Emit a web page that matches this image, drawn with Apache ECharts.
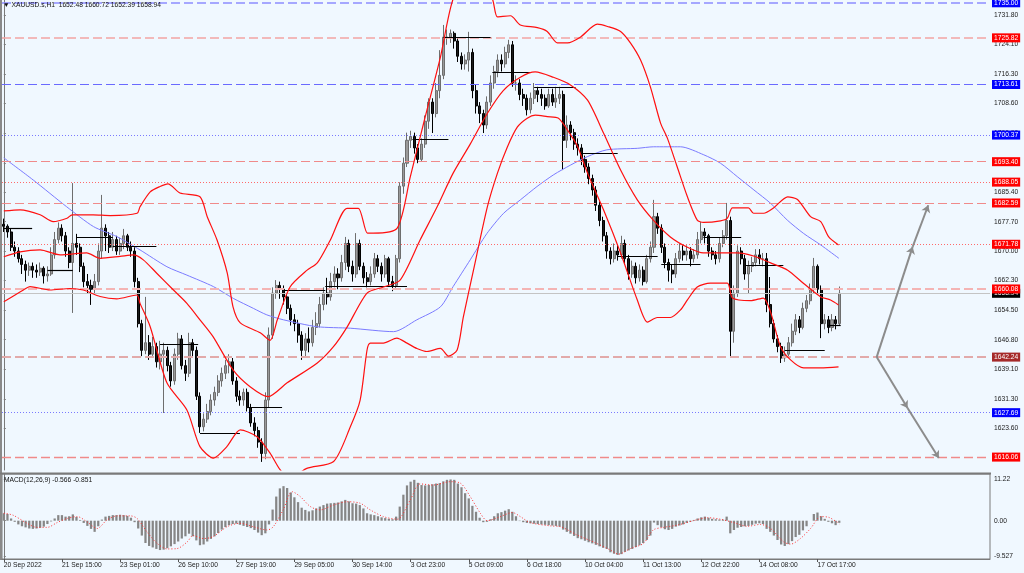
<!DOCTYPE html>
<html><head><meta charset="utf-8">
<script src="https://cdn.jsdelivr.net/npm/echarts@6/dist/echarts.min.js"></script>
<style>html,body{margin:0;padding:0;background:#f0f8ff;}#c{width:1024px;height:573px;}</style>
</head><body><div id="c"></div>
<script>
// ---------------- DATA ----------------
const HEADER_SYMBOL = 'XAUUSD.s,H1';
const HEADER_OHLC = ['1652.48', '1660.72', '1652.39', '1658.94'];
const MACD_HEADER = ['-0.566', '-0.851'];
const X_TICK_LABELS = ['20 Sep 2022','21 Sep 15:00','23 Sep 01:00','26 Sep 10:00','27 Sep 19:00','29 Sep 05:00','30 Sep 14:00','3 Oct 23:00','5 Oct 09:00','6 Oct 18:00','10 Oct 04:00','11 Oct 13:00','12 Oct 22:00','14 Oct 08:00','17 Oct 17:00'];
const PRICE_TICKS = [1731.80,1724.10,1716.30,1708.60,1700.90,1693.10,1685.40,1677.70,1670.00,1662.30,1654.50,1646.80,1639.10,1631.30,1623.60,1615.90];
const MACD_TICKS = [11.22, 0, -9.527];

// candles: [open, close, low, high]
const CANDLES = [
[1677,1676.5,1675,1678.5],[1676.5,1675,1673.5,1677],[1675,1671,1670,1676],[1671,1670,1668.5,1672.5],[1670,1668,1667,1671],
[1668,1666.5,1664,1669],[1666.5,1665,1662,1667.5],[1665,1666,1663.5,1667],[1666,1665,1663,1667],[1665,1664.5,1663,1666.5],
[1664.5,1665.5,1663.5,1667],[1665.5,1663.5,1661.5,1666],[1663.5,1664,1662,1666],[1664,1669,1663.5,1671],[1669,1673,1668,1675],
[1673,1676,1672,1677.5],[1676,1674,1672.5,1677],[1674,1670,1668.5,1675],[1670,1667,1665.5,1671],[1667,1672,1653.8,1687.8],
[1672,1671,1669,1674.5],[1671,1666,1664.5,1672],[1666,1662,1660.5,1667],[1662,1661,1659,1664],[1661,1660,1655.9,1662.5],
[1660,1662,1658.5,1664],[1662,1670,1661,1672],[1670,1676,1668,1684.7],[1676,1674,1670,1677],[1674,1671,1669.5,1675],
[1671,1673,1670,1675],[1673,1670,1669,1674],[1670,1672,1669,1673.5],[1672,1674,1670.5,1675.8],[1674,1671,1670,1674.5],
[1671,1670,1668.5,1672.5],[1670,1662,1660.5,1671],[1662,1651,1650,1663],[1651,1644,1642.5,1652],[1644,1646,1643,1658],
[1646,1643,1641.5,1648],[1643,1645,1642,1647.5],[1645,1641,1639.5,1646],[1641,1643,1639,1646.5],[1643,1644,1627.6,1646],
[1644,1640,1638.5,1645],[1640,1636,1634.5,1641],[1636,1643,1635,1644.5],[1643,1647,1641.5,1648.6],[1647,1640,1639,1648],
[1640,1638,1636,1641.5],[1638,1646,1637,1648.6],[1646,1644,1642,1647],[1644,1632,1631,1645],[1632,1624,1622.4,1633],
[1624,1626,1622.8,1627.5],[1626,1628,1625,1630],[1628,1631,1627,1632.5],[1631,1633,1629.5,1634.5],[1633,1636,1632,1637.5],
[1636,1638,1634.5,1639.5],[1638,1640,1636.5,1641.5],[1640,1641,1638,1643],[1641,1636,1635,1642],[1636,1632,1630.5,1637],
[1632,1631,1629.5,1633.5],[1631,1633,1629.5,1634],[1633,1629,1628,1634],[1629,1625,1624,1630],[1625,1623,1621.5,1626.5],
[1623,1620,1618.5,1624],[1620,1617,1614.8,1621],[1617,1631,1615.5,1633],[1631,1648,1629,1650],[1648,1659,1647,1660.5],
[1659,1661,1657.5,1662.4],[1661,1660,1657.5,1662],[1660,1658,1656,1661],[1658,1655,1653.5,1659],[1655,1652,1650.5,1656],
[1652,1651,1649,1653.5],[1651,1648,1646,1652],[1648,1644,1641.5,1649],[1644,1647,1642.5,1648.5],[1647,1646,1643.5,1650],
[1646,1650,1645,1652],[1650,1651,1648,1654],[1651,1656,1650,1658],[1656,1659,1654.5,1660.5],[1659,1658,1656,1663],
[1658,1662,1657,1664.3],[1662,1664,1660.5,1666],[1664,1663,1660,1665.5],[1663,1667,1662,1669],[1667,1672,1665,1673.7],
[1672,1666,1664.5,1673],[1666,1664,1662,1667.5],[1664,1672,1663,1674.7],[1672,1666,1665,1673],[1666,1663,1661.5,1667],
[1663,1662,1660.5,1664.5],[1662,1664,1661,1666],[1664,1668,1663,1669.5],[1668,1666,1664.5,1669],[1666,1664,1662,1667],
[1664,1668,1663,1669],[1668,1662,1661,1668.5],[1662,1661,1659.5,1663.5],[1661,1668,1660,1669],[1668,1687,1667,1688],
[1687,1693,1685,1694.5],[1693,1699,1692,1701],[1699,1700,1697,1701.5],[1700,1697,1695.5,1701],[1697,1694,1693,1698],
[1694,1698,1693.5,1699.5],[1698,1704,1697,1705.5],[1704,1709,1702,1710],[1709,1706,1700.9,1710],[1706,1712,1705,1714],
[1712,1716,1710,1722.6],[1716,1726,1715,1729.2],[1726,1726,1724,1728],[1726,1727,1724.5,1728],[1727,1725,1723,1727.5],
[1725,1721,1719.5,1726],[1721,1719,1717.5,1722],[1719,1720,1717.5,1721.5],[1720,1722,1717,1727.4],[1722,1712,1710,1723],
[1712,1708,1706,1713.5],[1708,1706,1703.5,1709],[1706,1703,1700.9,1707],[1703,1709,1702,1710.5],[1709,1714,1708,1716],
[1714,1717,1712.5,1718.5],[1717,1720,1715.5,1721.5],[1720,1719,1717,1721.5],[1719,1722,1718,1723.5],[1722,1724,1720.5,1725.3],
[1724,1714,1713,1725],[1714,1714,1712,1716],[1714,1711,1709.5,1715],[1711,1710,1708,1712.5],[1710,1707,1705.5,1711],
[1707,1710,1706,1711.5],[1710,1712,1708.5,1714],[1712,1711,1709,1713],[1711,1710,1708,1712.5],[1710,1708,1707,1711],
[1708,1711,1707.5,1712.5],[1711,1709,1708,1712.5],[1709,1710,1707.5,1713],[1710,1711,1708.5,1713],[1711,1699,1691.2,1712],
[1699,1703,1697,1705.5],[1703,1701,1699,1704],[1701,1698,1696.5,1702],[1698,1697,1695,1699.5],[1697,1694,1692.5,1698],
[1694,1692,1690.5,1695],[1692,1689,1687.5,1693],[1689,1686,1684.5,1690],[1686,1682,1680.5,1687],[1682,1678,1676.5,1683],
[1678,1674,1672.5,1679],[1674,1670,1668,1675],[1670,1668,1666.5,1671],[1668,1670,1667,1672],[1670,1669,1667.5,1671.5],
[1669,1672,1668,1674],[1672,1668,1666.5,1673],[1668,1664,1662.5,1669],[1664,1666,1663,1667.5],[1666,1663,1661.5,1667],
[1663,1665,1662,1666.5],[1665,1662,1661,1666],[1662,1668,1661.5,1669],[1668,1671,1667,1672.5],[1671,1679,1669.5,1683.4],
[1679,1676,1674.5,1680],[1676,1671,1669.5,1677],[1671,1667,1665.5,1672],[1667,1665,1662,1668],[1665,1664,1661.6,1666.5],
[1664,1668,1663,1669.5],[1668,1670,1667,1672],[1670,1669,1667.5,1671.5],[1669,1670,1667.5,1671.5],[1670,1668,1666,1671],
[1668,1669,1667,1670.5],[1669,1673,1668,1675],[1673,1675,1672,1677.6],[1675,1674,1672,1676],[1674,1670,1668.5,1674.5],
[1670,1669,1667.7,1671],[1669,1668,1666.5,1670],[1668,1672,1667,1673.5],[1672,1674,1671,1675.5],[1674,1678,1673,1682.6],
[1678,1649,1642.3,1679],[1649,1659,1646,1661],[1659,1670,1658,1671.5],[1670,1668,1666.5,1671],[1668,1664,1662.5,1669],
[1664,1666,1659,1667.5],[1666,1667,1664.5,1668.5],[1667,1669,1666,1670.5],[1669,1668,1666.5,1670.5],[1668,1668,1666,1669.5],
[1668,1656,1654,1669.5],[1656,1651,1650,1663.2],[1651,1647,1646,1652],[1647,1645,1643.5,1648],[1645,1642,1640.7,1646],
[1642,1643,1641,1645],[1643,1646,1642,1647.5],[1646,1649,1645,1651],[1649,1652,1648,1653.5],[1652,1650,1648.5,1653],
[1650,1655,1649.5,1656.5],[1655,1657,1654,1658.5],[1657,1660,1656,1661.5],[1660,1666,1659,1668.2],[1666,1660,1659,1666.5],
[1660,1651,1647.2,1661],[1651,1652,1649.5,1653.5],[1652,1650,1648.5,1653],[1650,1652,1649,1653.5],[1652,1651,1649.5,1653],
[1651,1658.94,1650.5,1660.72]
];

// Bollinger bands and moving average, keypoints [bar, price]
const BB_UPPER = [[0,1680.5],[4.5,1680.8],[10,1679.5],[13.6,1677.7],[17.4,1678.6],[18.8,1679.5],[24.6,1679.5],[29.3,1679.3],[36.7,1679.9],[37.5,1681.6],[40.3,1685.5],[43,1686.9],[45.2,1687.6],[48.5,1685.2],[54,1684.2],[56,1679],[58.7,1672.9],[61.5,1664.3],[63.1,1655.4],[65.1,1651.2],[70.6,1648.6],[73.3,1646.6],[75.3,1652],[78.8,1660.6],[83.5,1665],[86.3,1666.9],[89.9,1672.9],[94.5,1681.2],[97.6,1681.2],[100.1,1674.7],[101.7,1674.7],[108.3,1676],[111.9,1689.4],[116,1705.1],[120.2,1720.8],[123.7,1736],[129,1744],[134.5,1736],[135.9,1731.3],[139.5,1731.6],[142.2,1729.2],[146.9,1728.5],[149.6,1727.5],[152.4,1724.5],[155.2,1724.5],[158.7,1726],[163.4,1729.4],[166.2,1728.8],[169.8,1727.5],[172.5,1724.5],[175.3,1720],[178,1713],[180.8,1703.5],[182.7,1699.5],[185.4,1692],[188.2,1684.2],[190.9,1678.1],[192.6,1677.5],[197.3,1677.9],[199.2,1678.6],[200.6,1681.3],[205,1681.3],[206.4,1679.9],[209.2,1679.9],[211.9,1681.3],[215.8,1684.2],[218.5,1683.5],[222.1,1679],[224.9,1677.7],[227.1,1673.7],[229.8,1671.6]];
const BB_MIDDLE = [[0,1668.5],[4.5,1669.8],[10,1670.3],[15.5,1669],[22.8,1669.5],[26.5,1668.1],[32,1668.6],[35.7,1669],[38.4,1667.7],[42.1,1664.2],[46.7,1659.8],[50.4,1656.3],[54,1652],[57.6,1647.6],[63.1,1638.9],[67.8,1634.5],[72.8,1631.9],[78,1635.5],[86.3,1640.7],[90.7,1644.9],[94.5,1650.1],[100,1659],[104.5,1660.6],[109.1,1662.4],[114.6,1672.9],[119.3,1681.6],[123.7,1690.4],[128.4,1698],[133.1,1706],[137.5,1712],[142.2,1715.5],[146.3,1716.9],[151.3,1715.5],[156,1713.5],[160.7,1709.5],[165.1,1700.9],[169.8,1691.2],[174.4,1683.4],[178.8,1678.1],[183.5,1673.7],[188.2,1671],[192.6,1669.5],[197.3,1669.5],[201.9,1669.5],[206.4,1668.7],[211.1,1666.9],[215.8,1665],[220.2,1661.5],[224.9,1658],[227.6,1657.2],[229.8,1655.9]];
const BB_LOWER = [[0,1656.7],[5.4,1659.8],[7.2,1660.7],[12.7,1659.8],[18.2,1660.2],[21.9,1659.8],[26.5,1658.1],[31.1,1657.5],[36.6,1658.5],[37.5,1656.3],[40.3,1650.2],[44.9,1635.5],[50.4,1628.4],[54,1618.8],[57.7,1615.8],[61.4,1618.8],[65.1,1623.2],[69.7,1621.4],[73.3,1617.1],[76.1,1612.7],[78.8,1610.5],[83.4,1613.1],[90.8,1614.9],[95.4,1624],[98.1,1631],[100,1644.1],[100.9,1645.9],[104.5,1645.9],[108.2,1647.2],[111,1645.9],[113.7,1644.5],[116.5,1643.7],[120.2,1644.5],[122.4,1642.5],[124.8,1644.1],[126.5,1652.7],[129.3,1665],[133.1,1681.5],[135.9,1690.4],[138.6,1697.2],[141.4,1702.5],[144.1,1704.8],[146.3,1705.6],[149.6,1705.2],[152.7,1704.8],[155.1,1701.8],[157.9,1697.5],[160.7,1690.4],[165.1,1680.8],[169.8,1669.5],[174.4,1657.2],[177.2,1651.4],[179.9,1652.6],[183.5,1652.6],[186.3,1654.6],[188.2,1657.2],[190.9,1660.6],[194.5,1661.6],[199.2,1661.6],[200.6,1657.7],[205.6,1657],[209.1,1657.7],[211.1,1654],[213.8,1645],[216.6,1641.5],[220.2,1639.4],[224.9,1639.4],[229.8,1639.7]];
const MA_SLOW = [[0,1694.4],[8.1,1688.6],[17.3,1681.6],[24.7,1676.4],[31.1,1673.8],[37.5,1670.3],[44.9,1665.9],[50.4,1663.7],[57.7,1660.7],[63.2,1657.6],[68.7,1655],[72.4,1653.3],[77,1652],[86.2,1650.2],[95.4,1649.8],[107.3,1648.9],[113.7,1652],[120.2,1655.4],[123.7,1660.7],[128.4,1667.7],[133,1674.6],[137.6,1679.9],[142.2,1683.4],[146.8,1686.9],[151.4,1690],[156,1692.5],[160.6,1694.7],[166,1696.5],[174.4,1696.9],[178.9,1697.3],[186.3,1697.3],[192.7,1695.2],[197.3,1693],[201.9,1689.5],[206.5,1686],[211.1,1682.5],[215.7,1678.1],[220.2,1674.6],[224.9,1671.6],[229.9,1668.1]];

// black horizontal range segments: [fromBar, toBar, price]
const RANGE_SEGMENTS = [[0,7.8,1676],[12,19,1665],[20,30,1673.7],[30,42,1671.3],[43,53.5,1645.6],[54,65,1622.4],[67,76.6,1629.2],[77,88.5,1659.8],[88.5,111,1660.8],[112.5,122.4,1699.3],[121,134,1726],[134.5,145,1716.7],[146,157.4,1712.8],[158.7,169,1695.7],[169,180,1668.7],[181,191.8,1666.6],[192.6,203,1673.7],[204,214.6,1666.4],[215,226,1644.1],[226.8,230.4,1650.6]];

// horizontal level lines (price)
const LEVELS = [1735.00,1725.82,1713.61,1700.37,1693.40,1688.05,1682.59,1671.78,1660.08,1642.24,1627.69,1616.06];
const CURRENT_PRICE = 1658.94;

// projection arrows: [bar, price]
const ARROW_UP = [[240.3,1642.24],[250.2,1671.1],[254.5,1682.0]];
const ARROW_DOWN = [[240.3,1642.24],[248.8,1628.9],[257.4,1615.8]];

// MACD histogram per bar and signal keypoints
const MACD_HIST = [2.0,1.8,0.6,-0.3,-1.0,-1.5,-1.8,-2.1,-2.2,-2.1,-1.9,-1.6,-0.9,-0.2,0.6,1.5,1.5,1.1,1.2,1.7,
1.0,0.2,-0.6,-1.4,-2.2,-3.0,-1.5,0.3,1.1,1.3,1.5,1.5,1.6,1.5,1.3,0.8,-0.4,-2.1,-4.0,-6.0,
-6.8,-7.2,-7.6,-7.9,-7.8,-7.4,-6.9,-6.3,-5.6,-4.8,-4.2,-3.5,-4.2,-5.3,-6.6,-6.4,-5.6,-4.9,-4.2,-3.3,
-2.4,-1.7,-1.2,-0.9,-0.8,-1.1,-1.4,-1.7,-2.0,-2.5,-3.2,-3.9,-3.4,-1.0,3.0,6.5,8.7,9.3,8.8,7.6,
6.3,5.0,3.5,2.9,2.5,2.8,3.3,3.8,4.2,4.6,4.7,4.8,4.9,5.2,5.6,5.2,4.7,4.6,4.2,3.3,
2.0,1.7,1.5,1.2,0.9,0.7,0.5,0.4,1.1,3.8,7.0,9.5,10.5,11.0,10.2,9.6,9.5,9.6,9.8,10.0,
10.1,10.6,11.0,11.1,11.0,10.0,9.0,7.4,6.0,4.0,2.4,0.8,-0.4,-0.3,0.4,1.2,2.0,2.3,2.7,3.1,
2.4,1.2,-0.1,-0.4,-0.6,-0.7,-0.8,-0.9,-1.0,-1.1,-1.2,-1.3,-1.4,-1.6,-2.4,-3.0,-3.5,-4.1,-4.7,-5.0,
-5.4,-5.8,-6.1,-6.5,-6.9,-7.3,-7.6,-8.5,-8.9,-9.2,-9.0,-8.4,-8.0,-7.6,-7.1,-6.6,-6.0,-5.2,-4.0,-0.5,
-1.2,-1.8,-2.3,-2.5,-2.2,-1.6,-1.3,-1.0,-0.6,-0.3,0.2,0.6,0.9,1.1,0.8,0.5,0.4,0.3,0.3,1.1,
-3.4,-2.5,-1.9,-1.7,-1.5,-1.4,-1.1,-0.8,-0.7,-0.9,-2.2,-3.0,-4.0,-5.2,-6.4,-6.8,-6.3,-5.5,-4.4,-3.8,
-2.6,-1.5,0.0,1.8,2.2,1.2,0.5,-0.3,-0.7,-1.2,-0.57];
const MACD_SIGNAL = [[0,2.0],[2.5,1.5],[6.4,-0.7],[9.1,-1.8],[11.9,-1.8],[14.7,-0.5],[17.4,0.6],[20.2,1.1],[22.9,-0.3],[25.7,-2.1],[28.4,0.2],[31.2,1.3],[34.8,1.3],[36.7,0.6],[39.4,-3.0],[42.2,-6.1],[45,-7.6],[47.7,-7.5],[50.5,-5.7],[52.1,-4.0],[54.9,-4.8],[57.6,-4.3],[61.5,-1.6],[65.1,-0.7],[68.6,-1.6],[72.5,-2.5],[74.2,-1.6],[76.9,2.9],[79.4,7.8],[81.6,6.5],[84.4,3.8],[87.1,2.9],[90.7,4.2],[94.5,5.1],[98.1,4.7],[100.9,2.9],[104.5,1.1],[108.3,0.4],[111.9,5.6],[114.6,9.9],[118.2,9.6],[122.9,10.5],[125.7,10.1],[128.4,6.5],[131.2,2.0],[133.1,0],[136.7,1.1],[140,2.2],[142.2,1.1],[144.9,-0.5],[150.5,-1.4],[153.2,-1.6],[157.9,-3.9],[162.3,-5.7],[167,-7.9],[169.2,-9.0],[172.5,-7.5],[176.1,-6.1],[178.8,-2.5],[181.6,-1.8],[185.4,-1.2],[189.8,0],[193.7,0.8],[197.3,0.4],[200.9,-0.5],[204.7,-1.5],[208.3,-1.0],[211.1,-2.1],[214.7,-5.7],[216.6,-6.3],[219.3,-4.8],[222.1,-2.1],[224.9,1.1],[227.1,0.9],[229.6,-0.5],[230,-0.85]];

// ---------------- LAYOUT / STYLE ----------------
const FUTURE_SLOTS = 41;
const BARS_PER_LABEL = 16;
const PRICE_MIN = 1612.68, PRICE_MAX = 1735.73;
const MACD_MIN = -10.31, MACD_MAX = 12.57;
const FONT = 'Liberation Sans';
const FS = 6.7;
const LEVEL_STYLES = [
  {line:'#8c8cff', box:'#0000ff', type:[9,4], w:1.6},
  {line:'#f2a4a4', box:'#ff0000', type:[9,4], w:1.6},
  {line:'#6a6aff', box:'#0000ff', type:[9,4], w:1},
  {line:'#7a7aff', box:'#0000ff', type:[1,2], w:1},
  {line:'#f08a8a', box:'#ff0000', type:[9,4], w:1.2},
  {line:'#ff6a6a', box:'#ff0000', type:[1,2], w:1},
  {line:'#f08a8a', box:'#ff0000', type:[9,4], w:1.2},
  {line:'#ff6a6a', box:'#ff0000', type:[1,2], w:1},
  {line:'#f4b4b4', box:'#ff0000', type:[9,4], w:2},
  {line:'#e2aaaa', box:'#a52a2a', type:[9,4], w:2},
  {line:'#7a7aff', box:'#0000ff', type:[1,2], w:1},
  {line:'#f08a8a', box:'#ff0000', type:[9,4], w:1.4}
];

const nSlots = CANDLES.length + FUTURE_SLOTS;
const cats = Array.from({length: nSlots}, (_, i) => 'b' + i);
const isLabel = (i) => i % BARS_PER_LABEL === 0 && (i / BARS_PER_LABEL) < X_TICK_LABELS.length;

const levelData = LEVELS.map((v, i) => {
  const s = LEVEL_STYLES[i];
  return {
    yAxis: v,
    lineStyle: {color: s.line, type: s.type, width: s.w},
    label: {show: true, position: 'end', distance: 2, formatter: v.toFixed(2),
      backgroundColor: s.box, color: '#fff', fontSize: FS, fontFamily: FONT, padding: [1.5, 2, 0.5, 2]}
  };
});

const segData = RANGE_SEGMENTS.map(s => [{coord: [s[0], s[2]]}, {coord: [s[1], s[2]]}]);
const arrowData = [];
[ARROW_UP, ARROW_DOWN].forEach(a => {
  for (let i = 0; i < a.length - 1; i++) arrowData.push([{coord: a[i]}, {coord: a[i + 1]}]);
});

const bandLine = (name, data, color, width, z) => ({
  name, type: 'line', xAxisIndex: 2, yAxisIndex: 0, data, showSymbol: false, smooth: 0.25,
  lineStyle: {color, width}, silent: true, z
});

const chart = echarts.init(document.getElementById('c'), null, {renderer: 'canvas'});
chart.setOption({
  animation: false,
  backgroundColor: '#f0f8ff',
  textStyle: {fontFamily: FONT},
  title: [
    {left: 3, top: 2, padding: 0, text: '\u25BC ' + HEADER_SYMBOL + '  ' + HEADER_OHLC.join(' '),
     textStyle: {fontSize: FS, fontWeight: 'normal', color: '#111', fontFamily: FONT}},
    {left: 4, top: 477, padding: 0, text: 'MACD(12,26,9) ' + MACD_HEADER.join(' '),
     textStyle: {fontSize: FS, fontWeight: 'normal', color: '#111', fontFamily: FONT}}
  ],
  grid: [
    {left: 2, right: 34, top: 0, height: 470},
    {left: 2, right: 34, top: 474, height: 85, show: true, borderColor: '#7a7a7a', borderWidth: 1, backgroundColor: 'transparent'}
  ],
  xAxis: [
    {type: 'category', gridIndex: 0, data: cats, boundaryGap: true, show: false},
    {type: 'category', gridIndex: 1, data: cats, boundaryGap: true,
     axisLine: {show: true, onZero: false, lineStyle: {color: '#7a7a7a'}},
     axisTick: {show: true, alignWithLabel: true, interval: (i) => isLabel(i), length: 3, lineStyle: {color: '#555'}},
     axisLabel: {interval: (i) => isLabel(i), align: 'left', margin: 3, fontSize: FS, color: '#1a1a1a', fontFamily: FONT,
       formatter: (v, i) => X_TICK_LABELS[i / BARS_PER_LABEL] || ''},
     splitLine: {show: false}},
    {type: 'value', gridIndex: 0, min: -0.5, max: nSlots - 0.5, show: false},
    {type: 'value', gridIndex: 1, min: -0.5, max: nSlots - 0.5, show: false}
  ],
  yAxis: [
    {type: 'value', gridIndex: 0, position: 'right', min: PRICE_MIN, max: PRICE_MAX, splitLine: {show: false},
     axisLine: {show: true, lineStyle: {color: '#7a7a7a'}},
     axisTick: {show: true, customValues: PRICE_TICKS, length: 2, lineStyle: {color: '#7a7a7a'}},
     axisLabel: {customValues: PRICE_TICKS, formatter: (v) => Number(v).toFixed(2), margin: 4, fontSize: FS, color: '#1a1a1a', fontFamily: FONT}},
    {type: 'value', gridIndex: 1, position: 'right', min: MACD_MIN, max: MACD_MAX, splitLine: {show: false},
     axisLine: {show: true, lineStyle: {color: '#7a7a7a'}},
     axisTick: {show: true, customValues: MACD_TICKS, length: 2, lineStyle: {color: '#7a7a7a'}},
     axisLabel: {customValues: MACD_TICKS, formatter: (v) => (Number(v) === 0 ? '0.00' : String(v)), margin: 4, fontSize: FS, color: '#1a1a1a', fontFamily: FONT}}
  ],
  graphic: [
    {type: 'rect', left: 0, top: 0, shape: {width: 2, height: 560}, style: {fill: '#8a8a8a'}, silent: true},
    {type: 'rect', left: 0, top: 472.5, shape: {width: 991, height: 2}, style: {fill: '#7a7a7a'}, silent: true}
  ],
  series: [
    {name: 'current', type: 'line', xAxisIndex: 2, yAxisIndex: 0, data: [], silent: true, z: 1,
     markLine: {silent: true, symbol: 'none', animation: false, data: [{
       yAxis: CURRENT_PRICE, lineStyle: {color: '#c4c4c4', type: 'solid', width: 1},
       label: {show: true, position: 'end', distance: 2, formatter: CURRENT_PRICE.toFixed(2), backgroundColor: '#000', color: '#fff',
         fontSize: FS, fontFamily: FONT, padding: [1.5, 2, 0.5, 2]}}]}},
    {name: 'levels', type: 'line', xAxisIndex: 2, yAxisIndex: 0, data: [], silent: true, z: 2,
     markLine: {silent: true, symbol: 'none', animation: false, data: levelData}},
    {name: 'price', type: 'candlestick', xAxisIndex: 0, yAxisIndex: 0, data: CANDLES, barWidth: '70%', z: 3, silent: true,
     itemStyle: {color: '#9a9a9a', color0: '#1a1a1a', borderColor: '#6e6e6e', borderColor0: '#000', borderWidth: 1}},
    bandLine('ma', MA_SLOW, '#7b7bff', 1, 4),
    bandLine('bbUpper', BB_UPPER, '#ff1010', 1.2, 5),
    bandLine('bbMiddle', BB_MIDDLE, '#ff1010', 1.2, 5),
    bandLine('bbLower', BB_LOWER, '#ff1010', 1.2, 5),
    {name: 'ranges', type: 'line', xAxisIndex: 2, yAxisIndex: 0, data: [], silent: true, z: 6,
     markLine: {silent: true, symbol: 'none', animation: false, label: {show: false},
       lineStyle: {color: '#000', type: 'solid', width: 1.2}, data: segData}},
    {name: 'arrows', type: 'line', xAxisIndex: 2, yAxisIndex: 0, data: [], silent: true, z: 6,
     markLine: {silent: true, symbol: ['none', 'arrow'], symbolSize: 7, animation: false, label: {show: false},
       lineStyle: {color: '#8c8c8c', type: 'solid', width: 2}, data: arrowData}},
    {name: 'macd', type: 'bar', xAxisIndex: 1, yAxisIndex: 1, data: MACD_HIST, barWidth: '62%', silent: true,
     itemStyle: {color: '#868686'}},
    {name: 'signal', type: 'line', xAxisIndex: 3, yAxisIndex: 1, data: MACD_SIGNAL, showSymbol: false, smooth: 0.3, silent: true,
     lineStyle: {color: '#ff3030', type: [1, 2], width: 1}, z: 4}
  ]
});
</script>
</body></html>
